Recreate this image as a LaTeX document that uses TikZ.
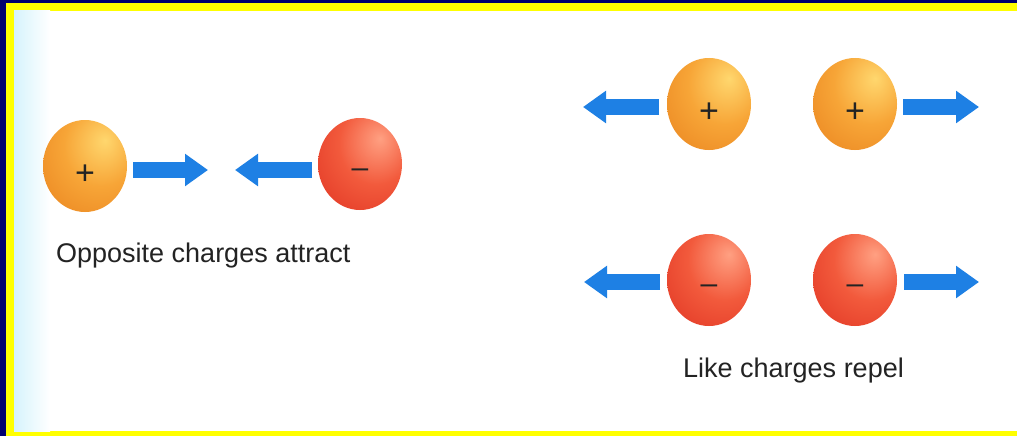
\documentclass[tikz,border=0pt]{standalone}
\usepackage{fontspec}
\setmainfont{Liberation Sans}
\usetikzlibrary{arrows.meta,shapes.geometric}
\definecolor{navy}{RGB}{0,0,110}
\definecolor{frame}{RGB}{255,255,0}
\definecolor{arrowblue}{RGB}{30,128,228}
\definecolor{txt}{RGB}{35,35,35}
\definecolor{orA}{RGB}{255,215,110}
\definecolor{orB}{RGB}{247,165,55}
\definecolor{orC}{RGB}{236,138,36}
\definecolor{orD}{RGB}{225,120,25}
\definecolor{rdA}{RGB}{255,160,130}
\definecolor{rdB}{RGB}{242,90,60}
\definecolor{rdC}{RGB}{228,60,40}
\definecolor{rdD}{RGB}{210,45,30}
\definecolor{paleblue}{RGB}{214,243,252}
\pgfdeclareradialshading{orangeball}{\pgfpoint{12bp}{14bp}}{color(0bp)=(orA);color(22bp)=(orB);color(42bp)=(orC);color(62bp)=(orD);color(100bp)=(orD)}
\pgfdeclareradialshading{redball}{\pgfpoint{12bp}{14bp}}{color(0bp)=(rdA);color(22bp)=(rdB);color(42bp)=(rdC);color(62bp)=(rdD);color(100bp)=(rdD)}
\newcommand{\possign}{\raisebox{-18pt}[0pt][0pt]{+}}
\newcommand{\negsign}{\raisebox{-13pt}[0pt][0pt]{–}}
\tikzset{
  ball/.style={ellipse, minimum width=84pt, minimum height=92pt, inner sep=0pt, text=txt},
  posball/.style={ball, shading=orangeball, font=\fontsize{34}{36}\selectfont},
  negball/.style={ball, shading=redball, font=\fontsize{30}{32}\selectfont},
  arr/.style={line width=16pt, draw=arrowblue, -{Triangle[width=31pt,length=23pt]}},
  caption/.style={anchor=base west, inner sep=0pt, text=txt, font=\fontsize{27}{30}\selectfont}
}
\begin{document}
\begin{tikzpicture}[x=1pt,y=-1pt]
\useasboundingbox (0,0) rectangle (1017,436);
% frame
\fill[navy] (0,0) rectangle (1017,436);
\fill[frame] (6,3) rectangle (1017,436);
\fill[white] (14,11) rectangle (1017,431);
\shade[left color=paleblue, right color=white] (14,11) rectangle (50,431);
% left group
\node[posball] (p0) at (85,166) {\possign};
\node[negball] (n0) at (360,164) {\negsign};
\coordinate (a1t) at (133,170);
\coordinate (a1h) at (208,170);
\coordinate (a2t) at (312,170);
\coordinate (a2h) at (235,170);
\draw[arr] (a1t) -- (a1h);
\draw[arr] (a2t) -- (a2h);
\node[caption] (c1) at (56,262) {Opposite charges attract};
% right top
\node[posball] (p1) at (709,104) {\possign};
\node[posball] (p2) at (855,104) {\possign};
\coordinate (b1t) at (659,107);
\coordinate (b1h) at (583,107);
\coordinate (b2t) at (903,107);
\coordinate (b2h) at (979,107);
\draw[arr] (b1t) -- (b1h);
\draw[arr] (b2t) -- (b2h);
% right bottom
\node[negball] (n1) at (709,280) {\negsign};
\node[negball] (n2) at (855,280) {\negsign};
\coordinate (c1t) at (660,282);
\coordinate (c1h) at (584,282);
\coordinate (c2t) at (904,282);
\coordinate (c2h) at (979,282);
\draw[arr] (c1t) -- (c1h);
\draw[arr] (c2t) -- (c2h);
\node[caption] (c2) at (683,377) {Like charges repel};
\end{tikzpicture}
\end{document}
